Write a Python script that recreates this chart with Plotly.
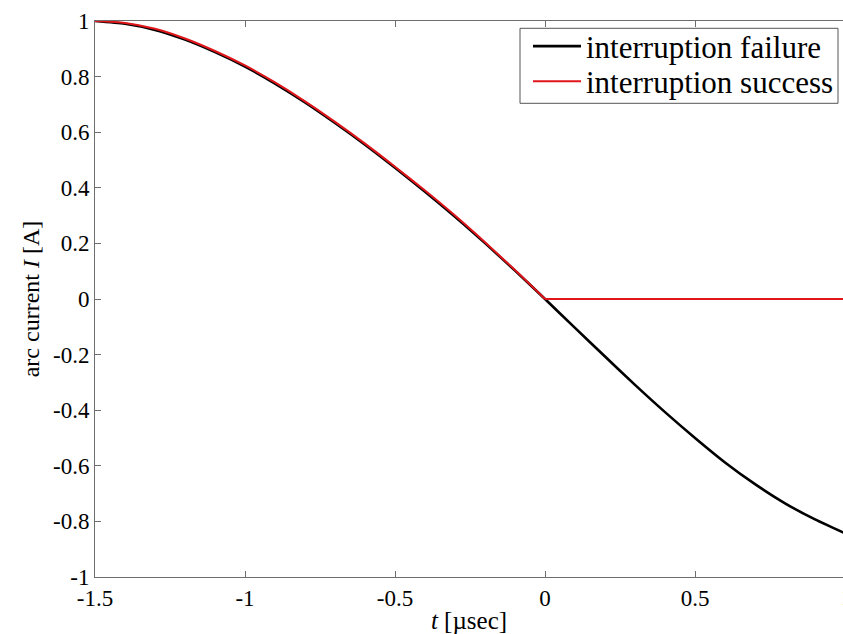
import plotly.graph_objects as go

# time axis [µsec]
t_vals = [-1.5, -1.4, -1.3, -1.2, -1.1, -1.0, -0.9, -0.8, -0.7, -0.6, -0.5, -0.4, -0.3,
          -0.2, -0.1, 0.0, 0.1, 0.2, 0.3, 0.4, 0.5, 0.6, 0.7, 0.8, 0.9, 1.0]

# interruption failure (black)
failure = [1.000, 0.990, 0.968, 0.933, 0.888, 0.836, 0.775, 0.707, 0.633, 0.555, 0.472, 0.386, 0.296,
           0.201, 0.102, 0.000, -0.104, -0.207, -0.309, -0.407, -0.500, -0.588, -0.666, -0.735, -0.793, -0.843]

# interruption success (red): follows the current down to the zero crossing, then stays at 0
t_success = [-1.5, -1.4, -1.3, -1.2, -1.1, -1.0, -0.9, -0.8, -0.7, -0.6, -0.5, -0.4, -0.3,
             -0.2, -0.1, 0.0]
success = [1.000, 0.993, 0.972, 0.937, 0.892, 0.840, 0.779, 0.711, 0.637, 0.559, 0.476, 0.390, 0.300,
           0.204, 0.104, 0.000]
t_after = [0.0, 1.0]
success_after = [0.0, 0.0]

x_ticks = [-1.5, -1.0, -0.5, 0.0, 0.5]
x_ticktext = ["-1.5", "-1", "-0.5", "0", "0.5"]
y_ticks = [-1.0, -0.8, -0.6, -0.4, -0.2, 0.0, 0.2, 0.4, 0.6, 0.8, 1.0]
y_ticktext = ["-1", "-0.8", "-0.6", "-0.4", "-0.2", "0", "0.2", "0.4", "0.6", "0.8", "1"]

FONT = "Liberation Serif"
AX = "#6e6e6e"
RED = "#e0161b"

# pixel helpers for the plot area (l=95, width 748; t=21, height 556)
def px_x(p):
    return (p - 95) / 748

def px_y(p):
    return 1 - (p - 21) / 556

fig = go.Figure()
fig.add_trace(go.Scatter(x=t_vals, y=failure, mode="lines", name="interruption failure",
                         legend="legend",
                         line=dict(color="black", width=2.6, shape="spline", smoothing=0.6)))
fig.add_trace(go.Scatter(x=t_success, y=success, mode="lines", name="interruption success",
                         legend="legend2", legendgroup="s",
                         line=dict(color=RED, width=2.0, shape="spline", smoothing=0.6)))
fig.add_trace(go.Scatter(x=t_after, y=success_after, mode="lines", name="interruption success",
                         legend="legend2", legendgroup="s", showlegend=False,
                         line=dict(color=RED, width=2.0)))

leg_common = dict(xanchor="left", yanchor="middle", bgcolor="rgba(0,0,0,0)", borderwidth=0,
                  font=dict(family=FONT, size=31, color="black"), itemwidth=48)

fig.update_layout(
    width=843, height=634,
    margin=dict(l=95, r=0, t=21, b=57),
    paper_bgcolor="white", plot_bgcolor="white",
    font=dict(family=FONT, size=23, color="black"),
    showlegend=True,
    legend=dict(x=px_x(528), y=px_y(46.5), **leg_common),
    legend2=dict(x=px_x(528), y=px_y(81.5), **leg_common),
    xaxis=dict(range=[-1.5, 0.9933], tickvals=x_ticks, ticktext=x_ticktext,
               showgrid=False, zeroline=False, showline=True, linecolor=AX, linewidth=1,
               mirror="ticks", ticks="inside", ticklen=6, tickcolor=AX,
               tickfont=dict(family=FONT, size=23, color="black"),
               title=dict(text="<i>t</i> [µsec]", font=dict(family=FONT, size=25), standoff=1)),
    yaxis=dict(range=[-1, 1], tickvals=y_ticks, ticktext=y_ticktext,
               showgrid=False, zeroline=False, showline=True, linecolor=AX, linewidth=1,
               mirror=False, ticks="inside", ticklen=6, tickcolor=AX,
               tickfont=dict(family=FONT, size=23, color="black"),
               title=dict(text="arc current <i>I</i> [A]", font=dict(family=FONT, size=24), standoff=6)),
    yaxis2=dict(range=[-1, 1], tickvals=y_ticks, overlaying="y", side="right", anchor="x",
                showgrid=False, zeroline=False, showline=False, showticklabels=False,
                ticks="inside", ticklen=6, tickcolor=AX),
)

# legend frame
fig.add_shape(type="rect", xref="paper", yref="paper",
              x0=px_x(520), x1=px_x(838), y0=px_y(103.3), y1=px_y(28.3),
              line=dict(color="#555", width=1), fillcolor="white", layer="above")

# the "1" tick label at the clipped right edge
fig.add_annotation(text="1", xref="paper", yref="paper", x=px_x(839), y=0,
                   xanchor="left", yanchor="top", yshift=-6, showarrow=False,
                   font=dict(family=FONT, size=23, color="black"))

fig.write_html("out.html")
